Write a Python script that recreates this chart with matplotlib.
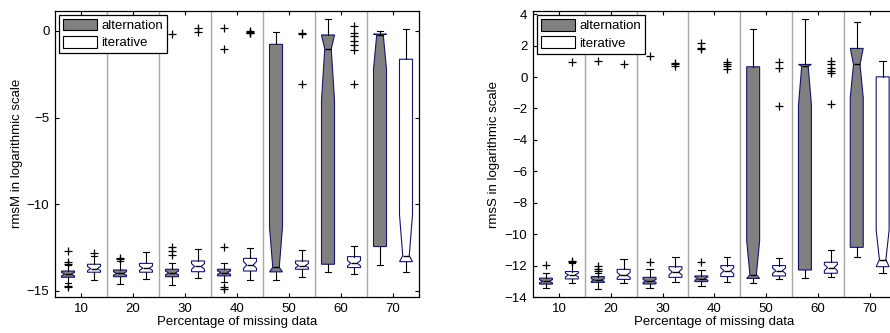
import matplotlib
matplotlib.use("Agg")
import matplotlib.pyplot as plt
from matplotlib.patches import Patch

plt.rcParams["font.family"] = ["Liberation Sans", "DejaVu Sans"]
plt.rcParams["font.size"] = 9.5

missing_pct = [10, 20, 30, 40, 50, 60, 70]
series_names = ["alternation", "iterative"]

# rmsM, alternation
m_alt_q1 = [-13.85, -13.79, -13.75, -13.75, -0.77, -0.23, -0.18]
m_alt_q3 = [-14.21, -14.18, -14.18, -14.13, -13.90, -13.46, -12.44]
m_alt_med = [-14.03, -13.99, -13.96, -13.94, -13.64, -1.04, -0.22]
m_alt_cilo = [-14.13, -14.09, -14.07, -14.04, -13.90, -4.00, -2.20]
m_alt_cihi = [-13.93, -13.89, -13.85, -13.84, -11.30, -0.23, -0.18]
m_alt_whislo = [-14.52, -14.62, -14.66, -14.46, -14.37, -13.88, -13.50]
m_alt_whishi = [-13.50, -13.27, -13.40, -13.40, -0.04, 0.67, 0.00]
m_alt_fliers = [
    [-12.70, -13.31, -13.46, -14.71, -14.80],
    [-13.08, -13.16],
    [-12.48, -12.69, -12.92, -0.19],
    [0.15, -1.04, -12.48, -14.75, -14.88],
    [], [], []
    ]

# rmsM, iterative
m_it_q1 = [-13.46, -13.41, -13.27, -13.12, -13.27, -13.02, -1.63]
m_it_q3 = [-13.92, -13.92, -13.89, -13.85, -13.75, -13.65, -13.31]
m_it_med = [-13.71, -13.69, -13.59, -13.50, -13.54, -13.40, -12.97]
m_it_cilo = [-13.83, -13.82, -13.76, -13.70, -13.66, -13.56, -13.31]
m_it_cihi = [-13.59, -13.56, -13.42, -13.30, -13.42, -13.24, -10.60]
m_it_whislo = [-14.37, -14.33, -14.23, -14.37, -14.21, -14.02, -13.89]
m_it_whishi = [-12.97, -12.77, -12.60, -12.54, -12.63, -12.40, 0.12]
m_it_fliers = [
    [-12.83],
    [],
    [0.16, -0.04],
    [0.00, -0.05, -0.10, -0.13],
    [-0.10, -0.15, -3.08],
    [0.29, -0.10, -0.30, -0.55, -0.80, -1.10, -3.08],
    []
    ]

# rmsS, alternation
s_alt_q1 = [-13.18, -13.07, -13.17, -13.02, -12.82, -12.28, -10.84]
s_alt_q3 = [-12.80, -12.70, -12.75, -12.66, 0.65, 0.80, 1.82]
s_alt_med = [-13.00, -12.92, -12.98, -12.83, -12.58, 0.68, 0.80]
s_alt_cilo = [-13.10, -13.00, -13.07, -12.93, -12.82, -1.80, -1.30]
s_alt_cihi = [-12.90, -12.84, -12.89, -12.73, -10.40, 0.80, 1.82]
s_alt_whislo = [-13.45, -13.51, -13.45, -13.30, -13.13, -12.77, -11.48]
s_alt_whishi = [-12.45, -12.45, -12.20, -12.28, 3.05, 3.72, 3.47]
s_alt_fliers = [
    [-11.95],
    [-12.05, -12.20, -12.32, 0.99],
    [-11.78, 1.35],
    [-11.80, 1.77, 1.85, 2.15],
    [], [], []
    ]

# rmsS, iterative
s_it_q1 = [-12.85, -12.88, -12.75, -12.70, -12.66, -12.49, -12.07]
s_it_q3 = [-12.38, -12.24, -12.07, -12.00, -12.00, -11.79, 0.01]
s_it_med = [-12.60, -12.60, -12.41, -12.33, -12.33, -12.13, -11.62]
s_it_cilo = [-12.72, -12.76, -12.60, -12.52, -12.50, -12.32, -12.07]
s_it_cihi = [-12.48, -12.44, -12.22, -12.14, -12.16, -11.94, -9.74]
s_it_whislo = [-13.10, -13.13, -13.02, -13.02, -12.88, -12.70, -12.50]
s_it_whishi = [-11.85, -11.60, -11.48, -11.43, -11.50, -11.01, 1.00]
s_it_fliers = [
    [-11.70, -11.78, 0.93],
    [0.80],
    [0.92, 0.80, 0.72],
    [0.97, 0.85, 0.70, 0.50],
    [0.97, 0.55, -1.85],
    [1.00, 0.80, 0.60, 0.40, 0.27, -1.70],
    []
    ]

box_colors = ["#808080", "white"]
edge_color = "#14146e"

def make_stats(q1, q3, med, cilo, cihi, whislo, whishi, fliers):

    stats = []
    for i in range(len(med)):
        lo, hi = sorted([q1[i], q3[i]])
        stats.append({
            "q1": lo,
            "q3": hi,
            "med": med[i],
            "cilo": cilo[i],
            "cihi": cihi[i],
            "whislo": whislo[i],
            "whishi": whishi[i],
            "fliers": fliers[i]
            })
    return stats

def draw_panel(ax, stats_pair, ylabel, ylim, yticks):

    offsets = [-2.5, 2.5]
    for stats, offset, color in zip(stats_pair, offsets, box_colors):
        ax.bxp(
            stats,
            positions = [p + offset for p in missing_pct],
            widths = 2.5,
            shownotches = True,
            patch_artist = True,
            manage_ticks = False,
            boxprops = dict(facecolor = color, edgecolor = edge_color, linewidth = 0.8),
            medianprops = dict(color = "black", linewidth = 1.0),
            whiskerprops = dict(color = "black", linewidth = 0.8),
            capprops = dict(color = "black", linewidth = 0.8),
            flierprops = dict(marker = "+", markeredgecolor = "black",
                              markersize = 5.5, markeredgewidth = 0.9, linestyle = "none")
            )

    for x in missing_pct[:-1]:
        ax.axvline(x + 5, color = "#a8a8a8", linewidth = 1.0, zorder = 0)

    ax.set_xlim(5, 75)
    ax.set_ylim(*ylim)
    ax.set_xticks(missing_pct)
    ax.set_yticks(yticks)
    ax.tick_params(direction = "in", length = 3, top = True, right = True, pad = 4)
    ax.set_xlabel("Percentage of missing data", labelpad = 1)
    ax.set_ylabel(ylabel)
    for spine in ax.spines.values():
        spine.set_linewidth(0.9)

    handles = [Patch(facecolor = c, edgecolor = "black", linewidth = 0.8) for c in box_colors]
    legend = ax.legend(
        handles, series_names, loc = "upper left", fancybox = False,
        edgecolor = "black", framealpha = 1, handlelength = 2.6,
        handleheight = 1.0, handletextpad = 0.3, labelspacing = 0.3,
        borderpad = 0.3, borderaxespad = 0.3
        )
    legend.get_frame().set_linewidth(0.9)

def main():

    fig = plt.figure(figsize = (8.9, 3.33), dpi = 100)

    ax_m = fig.add_axes([55/890, 36/333, 364/890, 286.3/333])
    ax_s = fig.add_axes([533/890, 36/333, 362.6/890, 286/333])

    stats_m = [
        make_stats(m_alt_q1, m_alt_q3, m_alt_med, m_alt_cilo, m_alt_cihi,
                   m_alt_whislo, m_alt_whishi, m_alt_fliers),
        make_stats(m_it_q1, m_it_q3, m_it_med, m_it_cilo, m_it_cihi,
                   m_it_whislo, m_it_whishi, m_it_fliers)
        ]
    stats_s = [
        make_stats(s_alt_q1, s_alt_q3, s_alt_med, s_alt_cilo, s_alt_cihi,
                   s_alt_whislo, s_alt_whishi, s_alt_fliers),
        make_stats(s_it_q1, s_it_q3, s_it_med, s_it_cilo, s_it_cihi,
                   s_it_whislo, s_it_whishi, s_it_fliers)
        ]

    draw_panel(ax_m, stats_m, "rmsM in logarithmic scale", (-15.35, 1.17), [-15, -10, -5, 0])
    draw_panel(ax_s, stats_s, "rmsS in logarithmic scale", (-14, 4.2), list(range(-14, 5, 2)))

    ax_m.yaxis.set_label_coords(-0.088, 0.5)
    ax_s.yaxis.set_label_coords(-0.091, 0.5)

    fig.savefig("out.png", dpi = 100)
    plt.close(fig)

if __name__ == "__main__":
    main()
